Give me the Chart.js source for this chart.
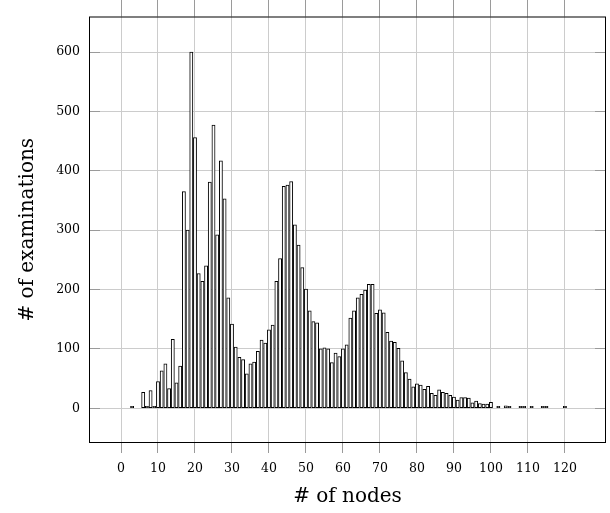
<!DOCTYPE html>
<html>
<head>
<meta charset="utf-8">
<script src="https://cdn.jsdelivr.net/npm/chart.js@4/dist/chart.umd.min.js"></script>
<style>
  html, body { margin: 0; padding: 0; background: #fff; }
  canvas { display: block; }
</style>
</head>
<body>
<canvas id="histCanvas" width="610" height="513"></canvas>
<script>
const canvas = document.getElementById("histCanvas");

// number of nodes per graph (x) and how many examinations had it (y)
const nodes = [
  3, 6, 7, 8, 9, 10, 11, 12, 13, 14, 15, 16, 17, 18, 19, 20,
  21, 22, 23, 24, 25, 26, 27, 28, 29, 30, 31, 32, 33, 34, 35, 36,
  37, 38, 39, 40, 41, 42, 43, 44, 45, 46, 47, 48, 49, 50, 51, 52,
  53, 54, 55, 56, 57, 58, 59, 60, 61, 62, 63, 64, 65, 66, 67, 68,
  69, 70, 71, 72, 73, 74, 75, 76, 77, 78, 79, 80, 81, 82, 83, 84,
  85, 86, 87, 88, 89, 90, 91, 92, 93, 94, 95, 96, 97, 98, 99, 100,
  102, 104, 105, 108, 109, 111, 114, 115, 120,
];
const examinations = [
  1, 27, 3, 30, 2, 45, 63, 75, 33, 116, 43, 71, 365, 300, 600, 456,
  227, 214, 240, 381, 477, 292, 417, 353, 186, 142, 103, 86, 82, 58, 75, 78,
  96, 115, 110, 132, 140, 214, 252, 374, 376, 382, 309, 275, 237, 201, 164, 146,
  144, 100, 102, 100, 77, 93, 87, 100, 107, 152, 164, 186, 192, 199, 209, 209,
  160, 166, 161, 128, 113, 111, 101, 80, 60, 49, 36, 41, 39, 32, 37, 25,
  22, 31, 27, 25, 22, 19, 14, 18, 18, 17, 9, 12, 8, 7, 7, 10,
  2, 4, 2, 1, 1, 1, 1, 1, 1,
];

const xTicks = [0, 10, 20, 30, 40, 50, 60, 70, 80, 90, 100, 110, 120];
const yTicks = [0, 100, 200, 300, 400, 500, 600];

const tickFont = { family: "'DejaVu Serif', serif", size: 12.5 };
const titleFont = { family: "'DejaVu Serif', serif", size: 20 };

function align(p) {
  return Math.round(p - 0.5) + 0.5;
}

// frame, outer x ticks on top and inner y ticks on both sides
const framePlugin = {
  id: "frame",
  afterDraw(chart) {
    const { ctx, chartArea: a, scales } = chart;
    ctx.save();
    ctx.lineWidth = 1;
    ctx.strokeStyle = "#9a9a9a";
    xTicks.forEach((v) => {
      const px = align(scales.x.getPixelForValue(v));
      ctx.beginPath();
      ctx.moveTo(px, 0);
      ctx.lineTo(px, a.top);
      ctx.stroke();
    });
    yTicks.forEach((v) => {
      const py = align(scales.y.getPixelForValue(v));
      ctx.beginPath();
      ctx.moveTo(a.left, py);
      ctx.lineTo(a.left + 11, py);
      ctx.moveTo(a.right - 11, py);
      ctx.lineTo(a.right, py);
      ctx.stroke();
    });
    ctx.strokeStyle = "#000";
    ctx.strokeRect(a.left + 0.5, a.top + 0.5, a.right - a.left - 1, a.bottom - a.top - 1);
    ctx.restore();
  },
};

const histChart = new Chart(canvas, {
  type: "bar",
  data: {
    datasets: [
      {
        data: nodes.map((n, i) => ({ x: n, y: examinations[i] })),
        backgroundColor: "#ffffff",
        borderColor: "#000000",
        borderWidth: 1,
        borderSkipped: false,
        barThickness: 3.2,
        minBarLength: 2,
      },
    ],
  },
  options: {
    responsive: false,
    animation: false,
    layout: { padding: { top: 13, right: 4, left: 0, bottom: 0 } },
    plugins: {
      legend: { display: false },
      tooltip: { enabled: false },
    },
    scales: {
      x: {
        type: "linear",
        offset: false,
        min: -8.65,
        max: 131.1,
        border: { display: false },
        grid: {
          offset: false,
          color: "#cccccc",
          tickColor: "#9a9a9a",
          tickLength: 10,
        },
        ticks: {
          color: "#000",
          font: tickFont,
          padding: 8,
          maxRotation: 0,
          autoSkip: false,
        },
        afterBuildTicks: (s) => {
          s.ticks = xTicks.map((v) => ({ value: v }));
        },
        afterFit: (s) => {
          s.height = 70;
        },
        title: {
          display: true,
          text: "# of nodes",
          color: "#000",
          font: titleFont,
          padding: { top: 0, bottom: 4 },
        },
      },
      y: {
        min: -58.5,
        max: 660,
        border: { display: false },
        grid: {
          color: "#cccccc",
          drawTicks: false,
        },
        ticks: {
          color: "#000",
          font: tickFont,
          padding: 9,
        },
        afterBuildTicks: (s) => {
          s.ticks = yTicks.map((v) => ({ value: v }));
        },
        afterFit: (s) => {
          s.width = 89;
        },
        title: {
          display: true,
          text: "# of examinations",
          color: "#000",
          font: titleFont,
          padding: { top: 16, bottom: 0 },
        },
      },
    },
  },
  plugins: [framePlugin],
});
</script>
</body>
</html>
